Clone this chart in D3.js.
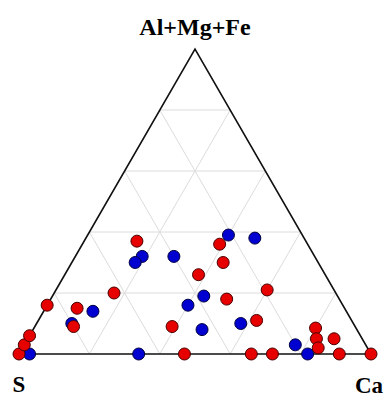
<!DOCTYPE html>
<html>
<head>
<meta charset="utf-8">
<script src="https://cdn.jsdelivr.net/npm/d3@7"></script>
<style>
  body { margin: 0; background: #fff; }
  svg { display: block; }
</style>
</head>
<body>
<div id="chart"></div>
<script>
// vertex labels
const vertexLabels = ["S", "Al+Mg+Fe", "Ca"]

// grid fractions
const gridSteps = [0.2, 0.4, 0.6, 0.8]

// samples as [S, Al+Mg+Fe, Ca] in percent
const redSamples = [
  [100, 0, 0], [97, 3, 0], [94, 6, 0], [84, 16, 0],
  [76, 15, 9], [80, 9, 11], [63, 20, 17], [48, 37, 15],
  [36, 26, 38], [25, 36, 39], [27, 30, 43], [32, 18, 50],
  [52, 9, 39], [19, 21, 60], [27, 11, 62], [53, 0, 47],
  [34, 0, 66], [28, 0, 72], [11.5, 8.5, 80], [13, 5, 82],
  [14, 2, 84], [8, 5, 87], [9, 0, 91], [0, 0, 100]
]

const blueSamples = [
  [97, 0, 3], [80, 10, 10], [72, 14, 14], [49, 32, 19],
  [52, 30, 18], [40, 32, 28], [21, 39, 40], [14, 38, 48],
  [38, 19, 43], [44, 16, 40], [44, 8, 48], [32, 10, 58],
  [66, 0, 34], [20, 3, 77], [18, 0, 82]
]

const width = 387
const height = 399

const xScale = d3.scaleLinear().domain([0, 1]).range([19, 371])
const yScale = d3.scaleLinear().domain([0, 1]).range([354, 49])

// ternary -> pixel
function project(s, a, c) {
  const total = s + a + c
  const aa = a / total
  const cc = c / total
  return [xScale(cc + aa / 2), yScale(aa)]
}

const svg = d3.select("#chart").append("svg")
  .attr("width", width)
  .attr("height", height)

const line = d3.line()

// grid lines parallel to each side
const grid = svg.append("g")
  .attr("stroke", "#dcdcdc")
  .attr("stroke-width", 1)
  .attr("fill", "none")

gridSteps.forEach(t => {
  // constant Al+Mg+Fe
  grid.append("path").attr("d", line([project(1 - t, t, 0), project(0, t, 1 - t)]))
  // constant Ca
  grid.append("path").attr("d", line([project(1 - t, 0, t), project(0, 1 - t, t)]))
  // constant S
  grid.append("path").attr("d", line([project(t, 1 - t, 0), project(t, 0, 1 - t)]))
})

// outline
svg.append("path")
  .attr("d", line([project(1, 0, 0), project(0, 1, 0), project(0, 0, 1)]) + "Z")
  .attr("fill", "none")
  .attr("stroke", "#111")
  .attr("stroke-width", 1.6)
  .attr("stroke-linejoin", "miter")

function drawPoints(data, fill, stroke) {
  svg.append("g")
    .selectAll("circle")
    .data(data)
    .enter().append("circle")
      .attr("cx", d => project(d[0], d[1], d[2])[0])
      .attr("cy", d => project(d[0], d[1], d[2])[1])
      .attr("r", 6)
      .attr("fill", fill)
      .attr("stroke", stroke)
      .attr("stroke-width", 1)
}

drawPoints(blueSamples, "#0000d0", "#000040")
drawPoints(redSamples, "#e60000", "#4a0000")

// vertex labels
const labelFont = "'Liberation Serif', 'DejaVu Serif', serif"
svg.append("text")
  .attr("x", 195).attr("y", 35)
  .attr("text-anchor", "middle")
  .attr("font-family", labelFont)
  .attr("font-weight", "bold")
  .attr("font-size", 24)
  .text(vertexLabels[1])

svg.append("text")
  .attr("x", 19).attr("y", 392)
  .attr("text-anchor", "middle")
  .attr("font-family", labelFont)
  .attr("font-weight", "bold")
  .attr("font-size", 23)
  .text(vertexLabels[0])

svg.append("text")
  .attr("x", 369).attr("y", 393)
  .attr("text-anchor", "middle")
  .attr("font-family", labelFont)
  .attr("font-weight", "bold")
  .attr("font-size", 23)
  .text(vertexLabels[2])
</script>
</body>
</html>
